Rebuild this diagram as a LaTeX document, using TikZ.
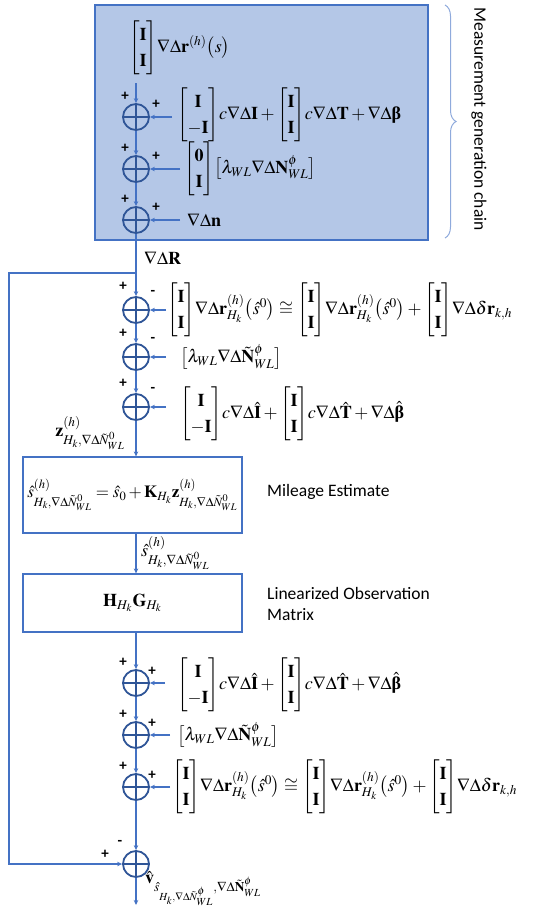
\documentclass[tikz,border=0pt]{standalone}
\usepackage{amsmath,amssymb}
\usepackage{mathptmx}
\usepackage[no-math]{fontspec}
\setmainfont{Liberation Serif}
\newfontfamily\lblfont{Carlito}
\usetikzlibrary{arrows.meta,decorations.pathreplacing}
\definecolor{lineblue}{RGB}{68,114,196}
\definecolor{sumblue}{RGB}{47,85,151}
\definecolor{boxfill}{RGB}{180,199,231}
\definecolor{braceblue}{RGB}{143,170,220}
\newcommand{\twovec}[2]{{\renewcommand{\arraystretch}{1.25}\begin{bmatrix}#1\\#2\end{bmatrix}}}
\newcommand{\bfI}{\mathbf{I}}
\newcommand{\nd}{\nabla\Delta}
\newcommand{\bbeta}{\text{\bfseries β}}
\begin{document}
\begin{tikzpicture}[x=1pt,y=-1pt,
  flow/.style={draw=lineblue, line width=1.4pt, -{Stealth[length=5pt,width=4.5pt]}},
  sumnode/.style={circle, draw=sumblue, line width=1.8pt, minimum size=26pt, inner sep=0pt,
    path picture={\draw[sumblue, line width=1.8pt] (path picture bounding box.north) -- (path picture bounding box.south) (path picture bounding box.west) -- (path picture bounding box.east);}},
  eq/.style={anchor=west, inner sep=0pt, font=\fontsize{18}{21}\selectfont},
  sgn/.style={inner sep=0pt, font=\lblfont\bfseries\fontsize{15}{18}\selectfont},
  lbl/.style={anchor=west, inner sep=0pt, align=left, font=\lblfont\fontsize{17.5}{21}\selectfont},
  procbox/.style={draw=lineblue, fill=white, line width=1.2pt, inner sep=0pt, font=\fontsize{17}{20}\selectfont}]
\useasboundingbox (0,0) rectangle (537,908);
% measurement generation chain
\node[draw=lineblue, fill=boxfill, line width=1.2pt, minimum width=333pt, minimum height=235pt, inner sep=0pt] (chainbox) at (261.5,122.5) {};
\draw[decorate, decoration={brace, amplitude=11pt}, braceblue, line width=1pt] (445,5) -- (445,238);
\node[rotate=-90, inner sep=0pt, font=\lblfont\fontsize{17.5}{21}\selectfont] (chainlbl) at (479,119) {Measurement generation chain};

\node[eq] (e0) at (129,48) {$\twovec{\bfI}{\bfI}\nd\mathbf{r}^{(h)}\bigl(s\bigr)$};
\coordinate (top) at (136,83);
\node[sumnode] (s1) at (136,117) {};
\node[sumnode] (s2) at (136,169) {};
\node[sumnode] (s3) at (136,220) {};
\node[eq] (e1) at (177,115) {$\twovec{\bfI}{-\bfI}c\nd\bfI+\twovec{\bfI}{\bfI}c\nd\mathbf{T}+\nd\bbeta$};
\node[eq] (e2) at (184,169) {$\twovec{\mathbf{0}}{\bfI}\bigl[\lambda_{WL}\nd\mathbf{N}^{\phi}_{WL}\bigr]$};
\node[eq] (e3) at (187,220) {$\nd\mathbf{n}$};
\coordinate (i1) at (172,117);
\coordinate (i2) at (180,169);
\coordinate (i3) at (180,220);
\draw[flow] (top) -- (s1);
\draw[flow] (s1) -- (s2);
\draw[flow] (s2) -- (s3);
\draw[flow] (i1) -- (s1);
\draw[flow] (i2) -- (s2);
\draw[flow] (i3) -- (s3);
\foreach \s in {s1,s2,s3}{
  \node[sgn] at ([shift={(-11,-21)}]\s) {+};
  \node[sgn] at ([shift={(20,-13)}]\s) {+};
}
\node[eq] (dR) at (144,258) {$\nd\mathbf{R}$};

% residual section
\coordinate (fb) at (136,273);
\node[sumnode] (s4) at (136,310) {};
\node[sumnode] (s5) at (136,357) {};
\node[sumnode] (s6) at (136,407) {};
\node[eq] (f1) at (167,310) {$\twovec{\bfI}{\bfI}\nd\mathbf{r}^{(h)}_{H_k}\bigl(\hat{s}^0\bigr)\cong\twovec{\bfI}{\bfI}\nd\mathbf{r}^{(h)}_{H_k}\bigl(\hat{s}^0\bigr)+\twovec{\bfI}{\bfI}\nd\delta\mathbf{r}_{k,h}$};
\node[eq] (f2) at (180,357) {$\bigl[\lambda_{WL}\nd\tilde{\mathbf{N}}^{\phi}_{WL}\bigr]$};
\node[eq] (f3) at (180,414) {$\twovec{\bfI}{-\bfI}c\nd\hat{\bfI}+\twovec{\bfI}{\bfI}c\nd\hat{\mathbf{T}}+\nd\hat{\bbeta}$};
\coordinate (i4) at (166,310);
\coordinate (i5) at (166,357);
\coordinate (i6) at (166,407);
\draw[flow] (s3) -- (s4);
\draw[flow] (s4) -- (s5);
\draw[flow] (s5) -- (s6);
\draw[flow] (i4) -- (s4);
\draw[flow] (i5) -- (s5);
\draw[flow] (i6) -- (s6);
\foreach \s in {s4,s5,s6}{
  \node[sgn] at ([shift={(-13,-24)}]\s) {+};
  \node[sgn] at ([shift={(17,-17)}]\s) {-};
}
\node[eq, anchor=east] (zl) at (125,433) {$\mathbf{z}^{(h)}_{H_k,\nabla\Delta\tilde{N}^0_{WL}}$};

% estimation boxes
\node[procbox, minimum width=219pt, minimum height=76pt] (box1) at (132.5,495) {$\hat{s}^{(h)}_{H_k,\nabla\Delta\tilde{N}^0_{WL}}=\hat{s}_0+\mathbf{K}_{H_k}\mathbf{z}^{(h)}_{H_k,\nabla\Delta\tilde{N}^0_{WL}}$};
\node[lbl] (mil) at (267,492) {Mileage Estimate};
\node[procbox, minimum width=219pt, minimum height=58pt, font=\fontsize{18}{21}\selectfont] (box2) at (132.5,603) {$\mathbf{H}_{H_k}\mathbf{G}_{H_k}$};
\node[lbl] (lin) at (267,604) {Linearized Observation\\Matrix};
\draw[flow] (s6) -- (s6 |- box1.north);
\draw[flow] (s6 |- box1.south) -- (s6 |- box2.north);
\node[eq] (shl) at (141,553) {$\hat{s}^{(h)}_{H_k,\nabla\Delta\tilde{N}^0_{WL}}$};

% predicted measurement section
\node[sumnode] (s7) at (136,683) {};
\node[sumnode] (s8) at (136,735) {};
\node[sumnode] (s9) at (136,787) {};
\node[sumnode] (s10) at (136,864) {};
\node[eq] (g1) at (177,685) {$\twovec{\bfI}{-\bfI}c\nd\hat{\bfI}+\twovec{\bfI}{\bfI}c\nd\hat{\mathbf{T}}+\nd\hat{\bbeta}$};
\node[eq] (g2) at (177,735) {$\bigl[\lambda_{WL}\nd\tilde{\mathbf{N}}^{\phi}_{WL}\bigr]$};
\node[eq] (g3) at (172,787) {$\twovec{\bfI}{\bfI}\nd\mathbf{r}^{(h)}_{H_k}\bigl(\hat{s}^0\bigr)\cong\twovec{\bfI}{\bfI}\nd\mathbf{r}^{(h)}_{H_k}\bigl(\hat{s}^0\bigr)+\twovec{\bfI}{\bfI}\nd\delta\mathbf{r}_{k,h}$};
\coordinate (i7) at (165,683);
\coordinate (i8) at (170,735);
\coordinate (i9) at (170,787);
\draw[flow] (s6 |- box2.south) -- (s7);
\draw[flow] (s7) -- (s8);
\draw[flow] (s8) -- (s9);
\draw[flow] (s9) -- (s10);
\draw[flow] (i7) -- (s7);
\draw[flow] (i8) -- (s8);
\draw[flow] (i9) -- (s9);
\foreach \s in {s7,s8,s9}{
  \node[sgn] at ([shift={(-13,-21)}]\s) {+};
  \node[sgn] at ([shift={(16,-12)}]\s) {+};
}
% feedback
\coordinate (fbl) at (9,273);
\coordinate (fbb) at (9,864);
\draw[flow] (fb) -- (fbl) -- (fbb) -- (s10);
\node[sgn] at ([shift={(-31,-10)}]s10) {+};
\node[sgn] at ([shift={(-16,-21)}]s10) {-};
\coordinate (out) at (136,905);
\draw[flow] (s10) -- (out);
\node[eq, anchor=north west] (vl) at (145,871) {$\hat{\mathbf{v}}_{\hat{s}_{H_k,\nabla\Delta\tilde{N}^{\phi}_{WL}},\nabla\Delta\tilde{\mathbf{N}}^{\phi}_{WL}}$};
\end{tikzpicture}
\end{document}
